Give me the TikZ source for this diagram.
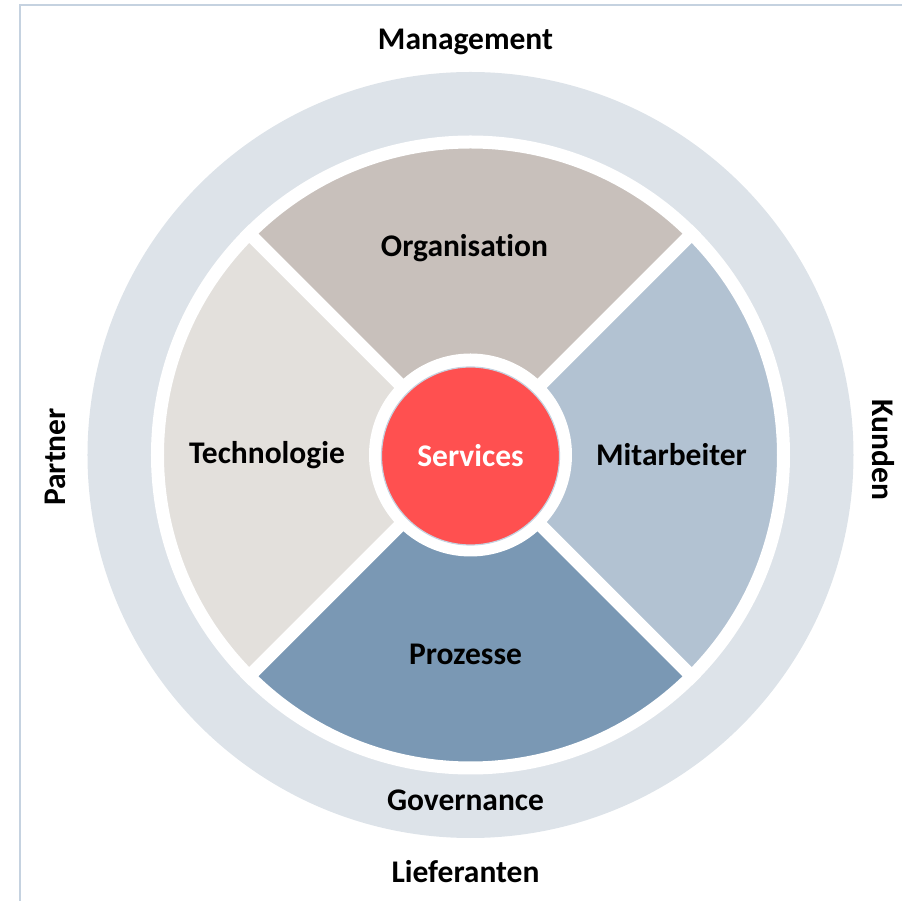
\documentclass[tikz,border=0pt]{standalone}
\usepackage{fontspec}
\setmainfont[Ligatures=NoCommon]{Carlito}
\definecolor{ringcol}{HTML}{DDE3E9}
\definecolor{orgcol}{HTML}{C8C0BB}
\definecolor{techcol}{HTML}{E3E0DC}
\definecolor{mitcol}{HTML}{B2C2D2}
\definecolor{prozcol}{HTML}{7A98B4}
\definecolor{servcol}{HTML}{FF5050}
\definecolor{framecol}{HTML}{C5D2E0}
\begin{document}
\begin{tikzpicture}[x=1pt, y=1pt,
    seg/.style = {draw=white, line width=13pt, line join=miter},
    lbl/.style = {font=\fontsize{31.5}{33}\selectfont\bfseries, text=black, inner sep=0pt}]
    \useasboundingbox (-470.5,-446) rectangle (431.5,455);
    \draw[framecol, line width=2pt] (-450,-446) -- (-450,449.5) -- (431.5,449.5);
    \fill[ringcol] (0,0) circle[radius=383];
    \foreach \a/\col in {45/orgcol, 135/techcol, 225/prozcol, 315/mitcol}
        \filldraw[seg, fill=\col] (\a:95) -- (\a:313)
            arc[start angle=\a, end angle=\a+90, radius=313]
            -- (\a+90:95) arc[start angle=\a+90, end angle=\a, radius=95] -- cycle;
    \fill[white] (0,0) circle[radius=100];
    \node[circle, fill=servcol, draw=framecol, line width=1.2pt, minimum size=178pt,
          font=\fontsize{31.5}{33}\selectfont\bfseries, text=white] (serv) at (0,-1) {Services};
    \node[lbl] (org) at (-6,207) {Organisation};
    \node[lbl] (tech) at (-203.5,0) {Technologie};
    \node[lbl] (mit) at (201,0) {Mitarbeiter};
    \node[lbl] (proz) at (-5,-199) {Prozesse};
    \node[lbl] (mgmt) at (-5,413) {Management};
    \node[lbl] (gov) at (-5,-345) {Governance};
    \node[lbl] (lief) at (-5,-417) {Lieferanten};
    \node[lbl, rotate=90] (partner) at (-415.5,-2) {Partner};
    \node[lbl, rotate=-90] (kunden) at (412.5,5) {Kunden};
\end{tikzpicture}
\end{document}
